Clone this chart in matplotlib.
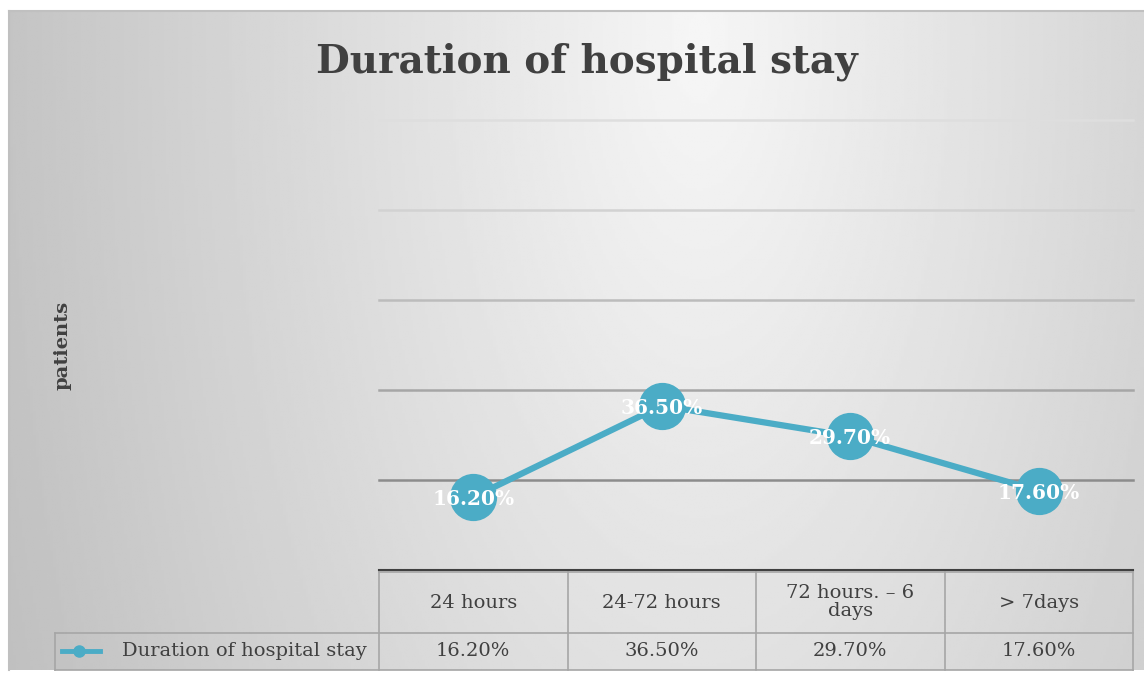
import numpy as np
import matplotlib.pyplot as plt

categories = ['24 hours', '24-72 hours', '72 hours. \u2013 6\ndays', '> 7days']
values = [16.2, 36.5, 29.7, 17.6]
value_labels = ['16.20%', '36.50%', '29.70%', '17.60%']
series_name = 'Duration of hospital stay'
title = 'Duration of hospital stay'
ylabel = 'patients'
grid_levels = [20, 40, 60, 80, 100]

W, H = 1144, 679
blue = '#4BACC6'
serif = 'DejaVu Serif'

fig = plt.figure(figsize=(W/100, H/100), dpi=100)

# background layer in pixel coords
bg = fig.add_axes([0, 0, 1, 1])
bg.set_xlim(0, W)
bg.set_ylim(H, 0)
bg.axis('off')
x0, y0, x1, y1 = 9, 11, 1144, 670
xx, yy = np.meshgrid(np.linspace(x0, x1, 400), np.linspace(y0, y1, 240))
r = np.sqrt(((xx - 700) / 600)**2 + ((yy - 40) / 1300)**2)
g = np.clip(0.965 - 0.17 * r, 0, 1)
bg.imshow(g, cmap='gray', vmin=0, vmax=1, extent=(x0, x1, y1, y0), aspect='auto', zorder=0)
bg.plot([x0, x1], [y0, y0], color='#c0c0c0', lw=1.5)
bg.plot([x0, x0], [y0, y1], color='#c0c0c0', lw=1.5)

# plot area: x 379..1133, y 570 (0%) .. 120 (100%)
pl, pr, pb, pt = 379, 1133, 570, 120
ax = fig.add_axes([pl/W, 1 - pb/H, (pr-pl)/W, (pb-pt)/H])
ax.patch.set_alpha(0)
ax.set_xlim(0, len(categories))
ax.set_ylim(0, 100)
for s in ax.spines.values():
    s.set_visible(False)
ax.set_xticks([])
ax.set_yticks([])
grid_cols = ['#8c8c8c', '#a6a6a6', '#bcbcbc', '#d2d2d2', '#dedede']
for lev, c in zip(grid_levels, grid_cols):
    ax.axhline(lev, color=c, lw=1.8, clip_on=False, zorder=1)
ax.axhline(0, color='#404040', lw=1.5, clip_on=False, zorder=2)

xs = np.arange(len(categories)) + 0.5
ax.plot(xs, values, color=blue, lw=4.5, marker='o', ms=33, zorder=3, clip_on=False)
for x, v, lab in zip(xs, values, value_labels):
    ax.text(x, v - 0.4, lab, ha='center', va='center', color='white', fontsize=14.5,
            fontweight='bold', family=serif, zorder=4)

# title and axis label
bg.text(587, 62, title, ha='center', va='center', fontsize=28, fontweight='bold',
        color='#404040', family=serif)
bg.text(62, 345, ylabel, ha='center', va='center', rotation=90, fontsize=14,
        fontweight='bold', color='#404040', family=serif)

# data table
tc = '#a6a6a6'
r0, r1, r2 = 570, 633, 670
cols = [pl + i * (pr - pl) / len(categories) for i in range(len(categories) + 1)]
for cx in cols:
    bg.plot([cx, cx], [r0, r2], color=tc, lw=1.2)
bg.plot([pl, pr], [r0 + 2, r0 + 2], color=tc, lw=1.2)
bg.plot([55, pr], [r1, r1], color=tc, lw=1.2)
bg.plot([55, pr], [r2, r2], color=tc, lw=1.2)
bg.plot([55, 55], [r1, r2], color=tc, lw=1.2)
for i, (cat, lab) in enumerate(zip(categories, value_labels)):
    cx = (cols[i] + cols[i + 1]) / 2
    bg.text(cx, (r0 + r1) / 2 + 1, cat, ha='center', va='center', fontsize=14,
            color='#404040', family=serif, linespacing=1.0)
    bg.text(cx, (r1 + r2) / 2, lab, ha='center', va='center', fontsize=14,
            color='#404040', family=serif)
bg.plot([62, 100], [651, 651], color=blue, lw=3.5)
bg.plot([79], [651], marker='o', ms=8, color=blue)
bg.text(122, (r1 + r2) / 2, series_name, ha='left', va='center', fontsize=14,
        color='#404040', family=serif)

fig.savefig('out.png', dpi=100)
